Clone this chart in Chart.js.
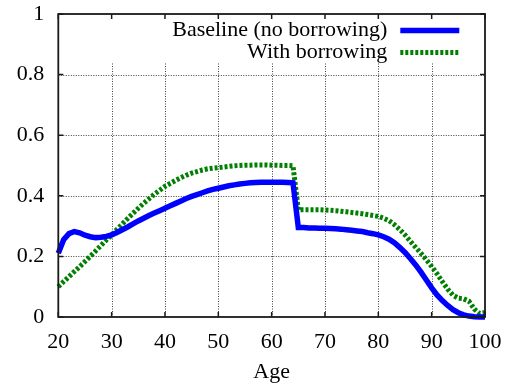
<!DOCTYPE html>
<html>
<head>
<meta charset="utf-8">
<script src="https://cdn.jsdelivr.net/npm/chart.js@4/dist/chart.umd.min.js"></script>
<style>
  html, body { margin: 0; padding: 0; background: #ffffff; }
  canvas { display: block; }
</style>
</head>
<body>
<canvas id="chart" width="508" height="387"></canvas>
<script>
// Age grid (years) shared by both series
const ages = [];
for (let a = 20; a <= 100; a++) ages.push(a);

// Share of income, baseline case (no borrowing)
const baseline = [
  0.210, 0.255, 0.275, 0.282, 0.278, 0.270, 0.265, 0.262, 0.263, 0.266,
  0.271, 0.279, 0.288, 0.297, 0.307, 0.317, 0.326, 0.335, 0.343, 0.351,
  0.359, 0.367, 0.375, 0.383, 0.391, 0.398, 0.404, 0.410, 0.416, 0.421,
  0.425, 0.429, 0.433, 0.436, 0.439, 0.441, 0.443, 0.444, 0.445, 0.445,
  0.445, 0.445, 0.445, 0.444, 0.443, 0.295, 0.295, 0.294, 0.294, 0.293,
  0.293, 0.292, 0.291, 0.290, 0.288, 0.286, 0.284, 0.282, 0.278, 0.275,
  0.271, 0.265, 0.257, 0.245, 0.230, 0.213, 0.193, 0.172, 0.148, 0.122,
  0.096, 0.073, 0.054, 0.038, 0.024, 0.014, 0.007, 0.003, 0.001, 0.000,
  0.000
];

// Share of income when borrowing is allowed
const borrowing = [
  0.100, 0.117, 0.133, 0.150, 0.166, 0.183, 0.200, 0.218, 0.236, 0.254,
  0.271, 0.289, 0.307, 0.325, 0.342, 0.359, 0.375, 0.390, 0.405, 0.418,
  0.431, 0.441, 0.451, 0.460, 0.468, 0.475, 0.480, 0.485, 0.489, 0.491,
  0.493, 0.495, 0.497, 0.499, 0.500, 0.501, 0.501, 0.502, 0.502, 0.502,
  0.501, 0.501, 0.500, 0.500, 0.499, 0.354, 0.354, 0.354, 0.354, 0.354,
  0.353, 0.352, 0.351, 0.349, 0.347, 0.345, 0.343, 0.341, 0.338, 0.335,
  0.332, 0.326, 0.318, 0.305, 0.289, 0.271, 0.250, 0.230, 0.210, 0.189,
  0.167, 0.143, 0.117, 0.092, 0.072, 0.062, 0.060, 0.052, 0.026, 0.012,
  0.015
];

// Axis tick values
const ageTicks = [20, 30, 40, 50, 60, 70, 80, 90, 100];
const shareTicks = [0, 0.2, 0.4, 0.6, 0.8, 1];

// Series names and colours
const seriesNames = ['Baseline (no borrowing)', 'With borrowing'];
const seriesColors = ['#0000ff', '#008000'];

const FONT = '"Liberation Serif", "DejaVu Serif", serif';
const FONT_SIZE = 22;

const toPoints = (vals) => ages.map((a, i) => ({ x: a, y: vals[i] }));

// Keep tick labels from pushing the plot frame inward
const noEdgePadding = (s) => {
  s.paddingTop = 0; s.paddingBottom = 0;
  s.paddingLeft = 0; s.paddingRight = 0;
};

// Frame, dotted grid, inward ticks and the key, drawn in gnuplot style
const frameAndKey = {
  id: 'frameAndKey',
  beforeDatasetsDraw(chart) {
    const { ctx, chartArea: ca, scales } = chart;
    const xs = scales.x, ys = scales.y;
    const keyBottom = ca.top + 49;
    ctx.save();
    ctx.strokeStyle = 'rgba(0,0,0,0.75)';
    ctx.lineWidth = 1;
    ctx.setLineDash([1, 1.5]);
    // horizontal grid lines
    shareTicks.forEach(v => {
      if (v <= 0 || v >= 1) return;
      const y = Math.round(ys.getPixelForValue(v)) + 0.5;
      ctx.beginPath();
      ctx.moveTo(ca.left, y);
      ctx.lineTo(ca.right, y);
      ctx.stroke();
    });
    // vertical grid lines stop below the key
    ageTicks.forEach(v => {
      if (v <= ageTicks[0] || v >= ageTicks[ageTicks.length - 1]) return;
      const x = Math.round(xs.getPixelForValue(v)) + 0.5;
      ctx.beginPath();
      ctx.moveTo(x, ca.bottom);
      ctx.lineTo(x, keyBottom);
      ctx.stroke();
    });
    ctx.restore();
  },
  afterDatasetsDraw(chart) {
    const { ctx, chartArea: ca, scales } = chart;
    const xs = scales.x, ys = scales.y;
    const tick = 5;
    ctx.save();
    ctx.setLineDash([]);
    ctx.strokeStyle = '#1a1a1a';
    ctx.lineWidth = 1.5;
    // inward ticks on all four sides
    ctx.beginPath();
    ageTicks.forEach(v => {
      const x = xs.getPixelForValue(v);
      ctx.moveTo(x, ca.bottom); ctx.lineTo(x, ca.bottom - tick);
      ctx.moveTo(x, ca.top); ctx.lineTo(x, ca.top + tick);
    });
    shareTicks.forEach(v => {
      const y = ys.getPixelForValue(v);
      ctx.moveTo(ca.left, y); ctx.lineTo(ca.left + tick, y);
      ctx.moveTo(ca.right, y); ctx.lineTo(ca.right - tick, y);
    });
    ctx.stroke();
    // frame
    ctx.lineWidth = 1.8;
    ctx.strokeRect(ca.left, ca.top, ca.right - ca.left, ca.bottom - ca.top);

    // key: right-aligned labels with line samples to their right
    ctx.font = FONT_SIZE + 'px ' + FONT;
    ctx.fillStyle = '#000000';
    ctx.textAlign = 'right';
    ctx.textBaseline = 'middle';
    const textRight = ca.left + 329;
    const sampleL = ca.left + 342;
    const sampleR = ca.left + 401;
    const rows = [ca.top + 16.5, ca.top + 38.5];
    chart.data.datasets.forEach((ds, i) => {
      const y = rows[i];
      ctx.fillText(ds.label, textRight, y);
      ctx.strokeStyle = ds.borderColor;
      ctx.lineWidth = ds.borderWidth;
      ctx.setLineDash(ds.borderDash || []);
      ctx.beginPath();
      ctx.moveTo(sampleL, y);
      ctx.lineTo(sampleR, y);
      ctx.stroke();
    });
    ctx.restore();
  }
};

function draw() {
  new Chart(document.getElementById('chart'), {
    type: 'line',
    data: {
      datasets: [
        {
          label: seriesNames[0],
          data: toPoints(baseline),
          borderColor: seriesColors[0],
          borderWidth: 5.5,
          pointRadius: 0,
          tension: 0,
          clip: false
        },
        {
          label: seriesNames[1],
          data: toPoints(borrowing),
          borderColor: seriesColors[1],
          borderWidth: 5,
          borderDash: [3, 2],
          borderCapStyle: 'butt',
          pointRadius: 0,
          tension: 0,
          clip: false
        }
      ]
    },
    options: {
      responsive: false,
      animation: false,
      devicePixelRatio: 1,
      layout: { padding: { top: 14, right: 23, left: 0, bottom: 0 } },
      plugins: {
        legend: { display: false },
        tooltip: { enabled: false }
      },
      scales: {
        x: {
          type: 'linear',
          min: 20,
          max: 100,
          afterBuildTicks: (s) => { s.ticks = ageTicks.map(v => ({ value: v })); },
          afterFit: (s) => { s.height = 70; noEdgePadding(s); },
          grid: { display: false, drawTicks: false },
          border: { display: false },
          ticks: {
            color: '#000',
            padding: 12,
            maxRotation: 0,
            callback: (v) => String(v),
            font: { family: FONT, size: FONT_SIZE }
          },
          title: {
            display: true,
            text: 'Age',
            color: '#000',
            padding: { top: 0, bottom: 2 },
            font: { family: FONT, size: FONT_SIZE }
          }
        },
        y: {
          type: 'linear',
          min: 0,
          max: 1,
          afterBuildTicks: (s) => { s.ticks = shareTicks.map(v => ({ value: v })); },
          afterFit: (s) => { s.width = 58.3; noEdgePadding(s); },
          grid: { display: false, drawTicks: false },
          border: { display: false },
          ticks: {
            color: '#000',
            padding: 14,
            callback: (v) => String(v),
            font: { family: FONT, size: FONT_SIZE }
          }
        }
      }
    },
    plugins: [frameAndKey]
  });
}

if (document.fonts && document.fonts.load) {
  document.fonts.load(FONT_SIZE + 'px "Liberation Serif"').then(draw, draw);
} else {
  draw();
}
</script>
</body>
</html>
